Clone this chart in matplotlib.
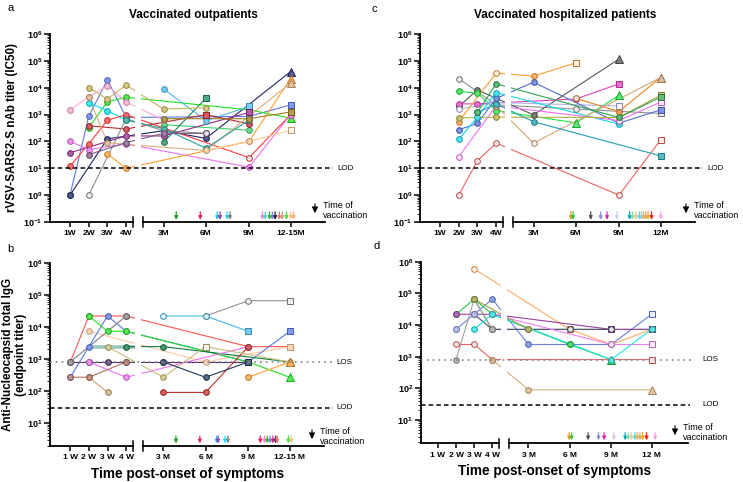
import numpy as np
import matplotlib
matplotlib.use('Agg')
import matplotlib.pyplot as plt
from matplotlib.ticker import FixedLocator, LogLocator, NullFormatter
from matplotlib import colors as mcolors

plt.rcParams['font.family'] = ['Liberation Sans', 'DejaVu Sans']
plt.rcParams['mathtext.fontset'] = 'custom'
plt.rcParams['mathtext.rm'] = 'Liberation Sans'
plt.rcParams['mathtext.bf'] = 'Liberation Sans:bold'

W, H = 743, 482

# sampling times: 1W 2W 3W 4W 3M 6M 9M 12(-15)M
x_pos = [1, 2, 3, 4, 6.0, 8.27, 10.57, 12.8]
N = None

# ---- a: nAb titers, outpatients ----
a_colors = ['#5b7be8', '#1c2566', '#1fe01f', '#3ccf6e', '#ffa6d2', '#00e0ee',
            '#4db8f0', '#ff3b3b', '#c0282d', '#962a8c', '#ee6fee', '#8c8c8c',
            '#ffa030', '#d8b080', '#1a8a5a', '#2aa198', '#c8b45a', '#ffc890',
            '#9c7c1c', '#7a5a8a']
a_values = [
    [1, 850, 20000, 780, N, N, 850, 2300],
    [1, N, 125, N, 250, 130, N, 40000],
    [N, 330, 3000, 4400, N, N, 1500, 740],
    [N, N, N, N, 420, N, 260, N],
    [1500, 4500, 12000, 2900, 630, N, N, N],
    [N, 2700, 1400, 620, N, N, N, N],
    [N, N, N, N, 9100, 590, 2000, N],
    [12, 80, 620, 980, N, N, 25, 1000],
    [N, 380, N, 290, N, 1000, 450, N],
    [38, N, N, 160, 160, N, 1200, N],
    [100, 50, N, 80, N, N, 11, 1000],
    [N, 1, N, 700, 250, 200, N, N],
    [N, N, 34, 10, N, N, 100, 22000],
    [N, 4500, 88, N, N, 46, N, 15000],
    [N, N, N, N, 93, 4100, N, N],
    [N, N, N, 620, 300, 56, 620, N],
    [N, 10000, 3800, 12500, 1600, 1800, N, N],
    [N, N, N, N, N, 46, 100, 260],
    [N, N, N, N, 700, N, 700, 1250],
    [N, 32, N, 91, 200, 200, N, N],
]
a_marks = ['ooooooos', 'ooooooo^', 'ooooooo^', 'oooooooo', 'ooooOooo',
           'oooooooo', 'oooooose', 'ooooooOo', 'ooooosoo', 'oooooosoo',
           'oooooooo', 'OOOOOOOO', 'ooooooo^', 'ooooooo^', 'ooooosoo',
           'oooooooo', 'oooooooo', 'oooooooS', 'ooooooos', 'oooooOoo']

# ---- c: nAb titers, hospitalized ----
c_colors = ['#909090', '#555555', '#22dd44', '#e040c0', '#b0b4e8', '#ff9a30',
            '#f08020', '#5070d8', '#10d8e8', '#f070f0', '#f06060', '#d0a878',
            '#b8b040', '#20a0b0', '#30a050']
c_values = [
    [N, 22000, N, 2300, N, 1600, N, 1100],
    [N, 2000, 8300, N, 980, N, 117000, N],
    [N, 7300, 6300, 1400, N, 490, 5200, N],
    [N, 2500, 2500, N, N, 3800, 14000, N],
    [N, 1600, N, 2800, N, N, 2100, N],
    [N, 550, N, 35000, 27000, 85000, N, N],
    [N, N, N, N, N, 4000, 1300, 24000],
    [N, 270, 470, 4000, 16000, N, 480, 1500],
    [N, 120, 800, 6600, N, N, 440, N],
    [N, 27, N, 2100, N, N, 600, 2900],
    [N, 1, 19, 87, N, N, 1, 115],
    [N, N, N, 2100, 87, N, N, 24000],
    [N, 750, N, 800, N, N, 780, 5300],
    [N, N, 1200, 2500, 540, N, N, 29],
    [N, N, 1200, 14000, N, N, 780, 4500],
]
c_marks = ['OOOOOOOS', 'oooooo^o', 'ooooo^^o', 'ooooooso', 'OOOOOOSO',
           'oooOoSoo', 'oooooOo^', 'ooooooos', 'oooooooo', 'OOOOOOOS',
           'OOOOOOOS', 'ooooOoo^', 'ooooooos', 'ooooooos', 'ooooooos']

# ---- b: anti-N IgG, outpatients ----
b_colors = ['#ff5050', '#ffc8a0', '#5a78e8', '#20e020', '#107a40', '#4a2a6a',
            '#909090', '#40b8f0', '#f070f0', '#c03030', '#d0a870', '#c8bc78',
            '#203a5a', '#ffa030', '#b07060', '#808080']
b_values = [
    [810, 21870, N, 21870, N, N, 2430, 2430],
    [N, 7290, N, N, N, 810, N, 2430],
    [270, 2430, 21870, 7290, N, N, 810, 7290],
    [N, 21870, 7290, 7290, N, N, 810, 270],
    [N, N, N, 2430, 2430, N, N, 810],
    [810, 810, 810, 810, 810, N, 810, N],
    [N, N, N, N, N, 21870, 65610, 65610],
    [N, N, N, N, 21870, 21870, 7290, N],
    [N, 810, N, 270, N, N, 2430, N],
    [N, N, N, N, 91, 91, 2430, N],
    [N, 270, 91, N, N, N, N, N],
    [N, N, 2430, N, 270, 2430, N, 810],
    [N, N, N, N, 810, 270, 810, N],
    [N, N, N, N, N, N, 270, 810],
    [270, 270, N, 810, N, N, N, N],
    [810, N, N, 21870, N, N, N, N],
]
b_marks = ['oooooooS', 'ooooooos', 'ooooooos', 'ooooooo^', 'ooooooo^',
           'oooooose', 'OOOOOOOS', 'ooooOOso', 'oooooooo', 'oooooooo',
           'oooooooo', 'oOoooSoo', 'oooooose', 'ooooooo^', 'oooooooo',
           'oooooooo']
b_band = [N, 2430, 2430, 2430, N, N, N, N]

# ---- d: anti-N IgG, hospitalized ----
d_colors = ['#ffa860', '#6a9a7a', '#6a80e0', '#20d040', '#9a40a0', '#505070',
            '#f06060', '#a0a0a0', '#d8b080', '#f080f0', '#20e0e0', '#a0a8e8',
            '#a0a040']
d_values = [
    [N, N, 590490, N, N, 7290, 2430, 7290],
    [N, N, 65610, 7290, 7290, N, N, 7290],
    [N, 7290, N, 65610, 2430, 2430, 2430, 21870],
    [N, 21870, 65610, 21870, N, 2430, 810, N],
    [N, 21870, 21870, 21870, N, N, 7290, 7290],
    [N, N, 21870, 7290, N, 7290, 7290, N],
    [N, 2430, 2430, 810, N, N, N, 810],
    [N, 810, 65610, 7290, N, N, N, N],
    [N, N, N, 810, 90, N, N, 90],
    [N, N, N, 21870, N, N, 2430, 2430],
    [N, N, 7290, 21870, N, N, 810, 7290],
    [N, 7290, 21870, N, N, N, N, N],
    [N, N, 65610, N, 7290, N, N, N],
]
d_marks = ['ooOoosoS', 'ooooooos', 'oooooooS', 'oooooo^o', 'oooooosS',
           'OOOOOOOO', 'OOOOOOOS', 'oooooooo', 'oooooo^^', 'OOOOOOOS',
           'oooooooo', 'oooooooo', 'oooooooo']

# ---- time of vaccination (months post onset) ----
a_vax = [3.9, 5.6, 6.8, 7.0, 7.5, 7.7, 10.0, 10.2, 10.5, 10.7, 10.9, 11.2,
         11.4, 11.7, 12.0, 12.2]
a_vax_c = ['#1a9a1a', '#e0206a', '#20c0e0', '#9040b0', '#20e0f0', '#808080',
           '#ff80c0', '#60c8e0', '#20c020', '#8080e0', '#202050', '#ff7060',
           '#d0a080', '#40e040', '#ffc080', '#ffb070']
b_vax = [3.9, 5.6, 6.8, 6.9, 7.4, 7.6, 9.9, 10.2, 10.4, 10.6, 10.8, 11.0,
         11.1, 11.9, 12.1]
b_vax_c = ['#1a9a1a', '#e0206a', '#20c0e0', '#9040b0', '#20e0f0', '#808080',
           '#e0206a', '#ff80c0', '#20c020', '#8080e0', '#c03080', '#202050',
           '#ff7060', '#40e040', '#ffc080']
c_vax = [5.65, 5.8, 7.05, 7.75, 8.2, 8.9, 9.8, 10.0, 10.25, 10.5, 10.65,
         10.8, 10.95, 11.1, 11.35, 12.0]
c_vax_c = ['#ff9020', '#20d040', '#505050', '#8890d0', '#e020c0', '#d0d0ec',
           '#10a0b0', '#80e0a0', '#ffc090', '#40e0f0', '#90c8f0', '#ffb040',
           '#d0b080', '#f0b020', '#ff2020', '#ffa0f0']
d_vax = [5.97, 6.15, 7.36, 8.12, 8.53, 9.24, 10.07, 10.29, 10.53, 10.78,
         10.95, 11.14, 11.34, 11.63, 12.26]
d_vax_c = ['#ff9020', '#20d040', '#505050', '#8890d0', '#e020c0', '#d0d0ec',
           '#10a0b0', '#80e0a0', '#ffc090', '#40e0f0', '#ffb040', '#d0b080',
           '#f0b020', '#ff2020', '#ffa0f0']

wk_labels = ['1W', '2W', '3W', '4W', '3M', '6M', '9M']
wk_labels_sp = ['1 W', '2 W', '3 W', '4 W', '3 M', '6 M', '9 M']


def month_x(m):
    return 6.0 + (m - 3) * 0.7556


def lighten(c, f):
    r = np.array(mcolors.to_rgb(c))
    return tuple(r + (1 - r) * f)


def darken(c, f=0.75):
    return tuple(np.array(mcolors.to_rgb(c)) * f)


def px_axes(fig, left, top, right, bottom):
    return fig.add_axes([left / W, 1 - bottom / H, (right - left) / W, (bottom - top) / H])


def setup(ax, xlim, ylim, yexp, labels):
    ax.set_yscale('log')
    ax.set_xlim(*xlim)
    ax.set_ylim(*ylim)
    for s in ['top', 'right', 'bottom']:
        ax.spines[s].set_visible(False)
    ax.spines['left'].set_linewidth(1.3)
    ax.set_xticks(x_pos)
    ax.set_xticklabels(labels, fontweight='bold', fontsize=6)
    ax.tick_params(axis='x', length=3.5, width=1.1, pad=2.5)
    ax.yaxis.set_major_locator(FixedLocator([10.0 ** e for e in yexp]))
    ax.set_yticklabels([r'$\mathbf{10^{%d}}$' % e for e in yexp], fontsize=6.5)
    ax.yaxis.set_minor_locator(LogLocator(base=10, subs=np.arange(2, 10)))
    ax.yaxis.set_minor_formatter(NullFormatter())
    ax.tick_params(axis='y', which='major', length=4, width=1.1, pad=1.5)
    ax.tick_params(axis='y', which='minor', length=2, width=0.6)
    tr = ax.get_xaxis_transform()
    ax.plot([xlim[0], 4.37], [0, 0], transform=tr, color='k', lw=1.3, clip_on=False)
    ax.plot([4.9, xlim[1]], [0, 0], transform=tr, color='k', lw=1.3, clip_on=False)
    for xb in (4.37, 4.9):
        ax.plot([xb, xb], [-0.025, 0.025], transform=tr, color='k', lw=1.1, clip_on=False)
    ax.axvspan(4.5, 4.82, color='white', zorder=3, lw=0)
    ax.set_facecolor('none')


def draw_series(ax, values, cols, marks):
    for vals, col, mk in zip(values, cols, marks):
        pts = [(x, v, m) for x, v, m in zip(x_pos, vals, mk) if v is not None]
        xs = [p[0] for p in pts]
        ys = [p[1] for p in pts]
        ax.plot(xs, ys, color=col, lw=0.8, zorder=2)
        for x, y, m in pts:
            face = lighten(col, 0.85) if m.isupper() else lighten(col, 0.25)
            shape = {'o': 'o', 's': 's', '^': '^', 'e': 's'}[m.lower()]
            size = 5.6 if shape == '^' else 4.1
            ax.plot(x, y, marker=shape, ms=size, mfc=face, mec=darken(col),
                    mew=0.7, zorder=4, clip_on=False)


def draw_vax(ax, months, cols, ytop, ybot):
    for m, c in zip(months, cols):
        ax.annotate('', xy=(month_x(m), ybot), xytext=(month_x(m), ytop),
                    arrowprops=dict(arrowstyle='-|>', color=c, lw=0.9,
                                    mutation_scale=5, shrinkA=0, shrinkB=0))


def vax_legend(fig, x, y):
    fig.patches.append(matplotlib.patches.FancyArrowPatch(
        (x / W, 1 - (y - 9) / H), (x / W, 1 - (y + 6) / H),
        transform=fig.transFigure, arrowstyle='-|>', mutation_scale=9,
        color='black', lw=0.8))
    fig.text((x + 8) / W, 1 - (y - 5) / H, 'Time of', fontsize=6.5, va='center')
    fig.text((x + 8) / W, 1 - (y + 6) / H, 'vaccination', fontsize=6.5, va='center')


def ref_line(ax, y, kind, xmax, label, xlab):
    if kind == 'LOD':
        ax.axhline(y, xmin=0, xmax=xmax, color='black', lw=1.1, ls=(0, (3, 2)),
                   clip_on=False, zorder=5)
    else:
        ax.axhline(y, xmin=0, xmax=xmax, color='#808080', lw=1.2, ls=(0, (1, 2.5)),
                   clip_on=False, zorder=5)
    ax.text(xlab, y, label, transform=ax.get_yaxis_transform(), fontsize=5.8,
            va='center', ha='left')


fig = plt.figure(figsize=(W / 100, H / 100), dpi=100)

# panel a
ax_a = px_axes(fig, 50, 34, 50 + 275.1, 222)
setup(ax_a, (-0.07, 14.64), (0.1, 1e6), range(-1, 7), wk_labels + ['12-15M'])
draw_series(ax_a, a_values, a_colors, a_marks)
draw_vax(ax_a, a_vax, a_vax_c, 10 ** -0.62, 10 ** -0.92)
ref_line(ax_a, 10, 'LOD', 1.03, 'LOD', 1.045)
ax_a.set_ylabel('rVSV-SARS2-S nAb titer (IC50)', fontsize=8.4, fontweight='bold')
ax_a.yaxis.set_label_coords(-0.118, 0.5)

# panel c
ax_c = px_axes(fig, 420, 34, 420 + 275.1, 222)
setup(ax_c, (-0.07, 14.64), (0.1, 1e6), range(-1, 7), wk_labels + ['12M'])
draw_series(ax_c, c_values, c_colors, c_marks)
draw_vax(ax_c, c_vax, c_vax_c, 10 ** -0.62, 10 ** -0.92)
ref_line(ax_c, 10, 'LOD', 1.03, 'LOD', 1.045)

# panel b
ax_b = px_axes(fig, 50.4, 262.7, 50.4 + 273.6, 446)
setup(ax_b, (-0.07, 14.64), (10 ** 0.29, 1e6), range(1, 7), wk_labels_sp + ['12-15 M'])
ax_b.plot([x_pos[i] for i in (1, 2, 3)], [b_band[i] for i in (1, 2, 3)],
          color='#9cc4bc', lw=2.6, zorder=1.5, solid_capstyle='butt')
ax_b.plot([4.0, 4.5], [2430, 2430], color='#9cc4bc', lw=2.6, zorder=1.5)
draw_series(ax_b, b_values, b_colors, b_marks)
draw_vax(ax_b, b_vax, b_vax_c, 10 ** 0.6, 10 ** 0.37)
ref_line(ax_b, 800, 'LOS', 1.033, 'LOS', 1.047)
ref_line(ax_b, 30, 'LOD', 1.033, 'LOD', 1.047)
ax_b.set_ylabel('Anti-Nucleocapsid total IgG\n(endpoint titer)', fontsize=8.4,
                fontweight='bold', linespacing=1.15)
ax_b.yaxis.set_label_coords(-0.085, 0.5)
ax_b.set_xlabel('Time post-onset of symptoms', fontsize=9.8, fontweight='bold', labelpad=4)

# panel d
ax_d = px_axes(fig, 420.6, 261.7, 420.6 + 267.2, 443.3)
setup(ax_d, (0.04, 14.8), (10 ** 0.265, 1e6), range(1, 7), wk_labels_sp + ['12 M'])
draw_series(ax_d, d_values, d_colors, d_marks)
draw_vax(ax_d, d_vax, d_vax_c, 10 ** 0.6, 10 ** 0.36)
ref_line(ax_d, 800, 'LOS', 1.027, 'LOS', 1.055)
ref_line(ax_d, 30, 'LOD', 1.01, 'LOD', 1.055)
ax_d.set_xlabel('Time post-onset of symptoms', fontsize=9.8, fontweight='bold', labelpad=4)

# titles, panel letters, vaccination keys
fig.text(193 / W, 1 - 15 / H, 'Vaccinated outpatients', fontsize=8.5,
         fontweight='bold', ha='center', va='center')
fig.text(565 / W, 1 - 15 / H, 'Vaccinated hospitalized patients', fontsize=8.5,
         fontweight='bold', ha='center', va='center')
for letter, x, y in [('a', 7, 8), ('c', 372, 9), ('b', 7, 249), ('d', 373, 246)]:
    fig.text(x / W, 1 - y / H, letter, fontsize=8, ha='left', va='center')

vax_legend(fig, 315, 210)
vax_legend(fig, 686, 210)
vax_legend(fig, 312, 436)
vax_legend(fig, 675, 432)

fig.savefig('out.png', dpi=100)
